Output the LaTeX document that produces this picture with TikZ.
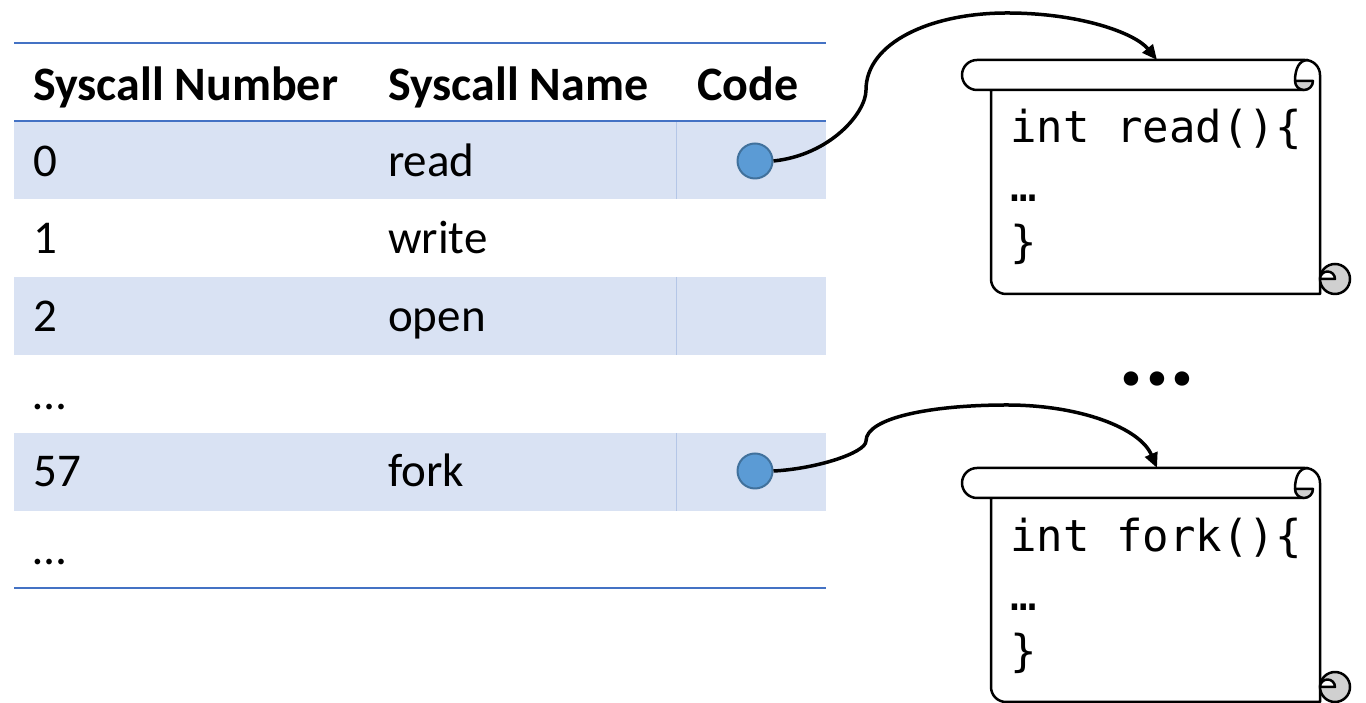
\documentclass[tikz,border=0pt]{standalone}
\usepackage{fontspec}
\setmainfont{Carlito}
\newfontfamily\codefont{DejaVu Sans Mono}
\usetikzlibrary{arrows.meta}
\definecolor{rowfill}{HTML}{D9E2F3}
\definecolor{rulecol}{HTML}{4472C4}
\definecolor{sepcol}{HTML}{B4C6E7}
\definecolor{dotfill}{HTML}{5B9BD5}
\definecolor{dotline}{HTML}{41719C}
\definecolor{curlcol}{HTML}{D0D0D0}
\tikzset{
  cell/.style={anchor=base west, inner sep=0pt, font=\fontsize{47}{56}\selectfont},
  head/.style={anchor=base west, inner sep=0pt, font=\bfseries\fontsize{48}{56}\selectfont},
  code/.style={anchor=base west, inner sep=0pt, font=\codefont\fontsize{44}{52}\selectfont},
  ptr/.style={circle, fill=dotfill, draw=dotline, line width=2pt, minimum size=35pt, inner sep=0pt},
  conn/.style={line width=3.5pt, -{Triangle[length=15pt,width=13pt]}},
  rowband/.style={fill=rowfill, draw=none},
  rulebar/.style={draw=rulecol, line width=2.5pt},
  colsep/.style={draw=sepcol, line width=1pt},
  outline/.style={line width=2.5pt, line join=round},
  scrollpic/.pic={
    \draw[outline, fill=white] (29,-30) -- (29,-219) arc[start angle=180,end angle=270,radius=15]
      -- (358,-234) -- (358,-15) arc[start angle=0,end angle=90,radius=15]
      -- (15,0) arc[start angle=90,end angle=270,radius=15] -- (342,-30);
    \draw[outline, fill=curlcol] (333,-21) arc[start angle=180,end angle=360,radius=9] -- cycle;
    \draw[outline] (333,-21) .. controls (333,-9) and (337,0) .. (346,0);
    \draw[outline, fill=curlcol] (373,-219) circle[radius=15];
    \draw[outline, fill=white] (358,-219) arc[start angle=180,end angle=0,radius=7.5] -- cycle;
  }
}
\begin{document}
\begin{tikzpicture}[x=1pt,y=1pt]
\useasboundingbox (0,0) rectangle (1366,703);
% row bands
\path[rowband] (14,582) rectangle (826,504);
\path[rowband] (14,426) rectangle (826,348);
\path[rowband] (14,270) rectangle (826,192);
\draw[colsep] (676,582) -- (676,504);
\draw[colsep] (676,426) -- (676,348);
\draw[colsep] (676,270) -- (676,192);
% rules
\draw[rulebar] (14,660) -- (826,660);
\draw[rulebar] (14,582) -- (826,582);
\draw[rulebar] (14,115) -- (826,115);
% header
\node[head] (h1) at (33,602) {Syscall Number};
\node[head] (h2) at (388,602) {Syscall Name};
\node[head] (h3) at (697,602) {Code};
% rows
\node[cell] (n0) at (33,526) {0};
\node[cell] (s0) at (388,526) {read};
\node[cell] (n1) at (33,449) {1};
\node[cell] (s1) at (388,449) {write};
\node[cell] (n2) at (33,371) {2};
\node[cell] (s2) at (388,371) {open};
\node[cell] (n3) at (33,293) {…};
\node[cell] (n57) at (33,216) {57};
\node[cell] (s57) at (388,216) {fork};
\node[cell] (n4) at (33,138) {…};
% pointers
\node[ptr] (c1) at (755,542) {};
\node[ptr] (c2) at (755,232) {};
% scrolls
\pic at (962,643) {scrollpic};
\pic at (962,235) {scrollpic};
\node[code] (k1) at (1010,560) {int read()\{};
\node[code] (k2) at (1010,501) {…};
\node[code] (k3) at (1010,445) {\}};
\node[code] (f1) at (1010,151) {int fork()\{};
\node[code] (f2) at (1010,92) {…};
\node[code] (f3) at (1010,36) {\}};
% ellipsis between scrolls
\node[anchor=base, inner sep=0pt, font=\bfseries\fontsize{97}{110}\selectfont] (dots) at (1157,317) {...};
% connectors
\coordinate (s1tip) at (1157,643);
\coordinate (s2tip) at (1157,235);
\draw[conn] (c1.east) .. controls (830,548) and (866,590) .. (866,613)
  .. controls (866,660) and (930,690) .. (1007,690)
  .. controls (1080,690) and (1135,670) .. (s1tip);
\draw[conn] (c2.east) .. controls (815,234) and (866,250) .. (866,262)
  .. controls (866,285) and (930,298) .. (1007,298)
  .. controls (1080,298) and (1140,275) .. (s2tip);
\end{tikzpicture}
\end{document}
